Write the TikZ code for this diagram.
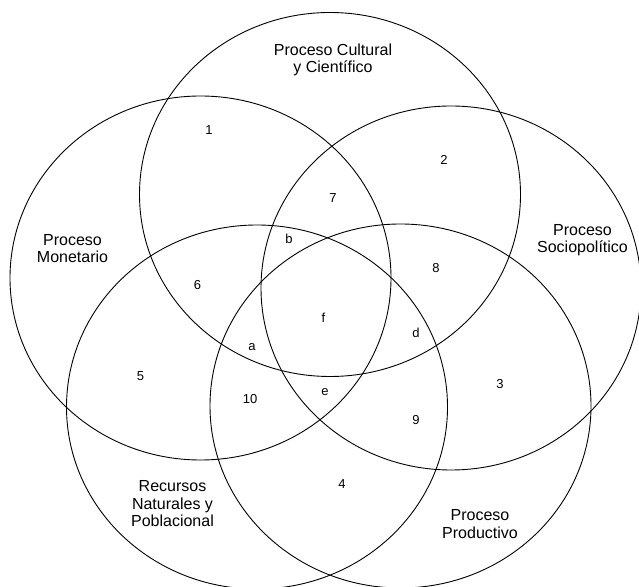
\documentclass[tikz,border=0pt]{standalone}
\usepackage{fontspec}
\setmainfont{Liberation Sans}
\usepackage{tikz}

\tikzset{
  setline/.style={black, line width=0.9pt},
  setname/.style={align=center, inner sep=0pt, font=\fontsize{16}{17.5}\selectfont},
  region/.style={inner sep=0pt, font=\fontsize{13}{15}\selectfont}
}

\begin{document}
\begin{tikzpicture}[x=1pt, y=1pt]
      \useasboundingbox (0,0) rectangle (639,586);
      % the five sets
      \draw[setline] (330,391.5) ellipse [x radius=190.5pt, y radius=182pt];
      \draw[setline] (200.5,308) ellipse [x radius=190.5pt, y radius=182pt];
      \draw[setline] (451,298) ellipse [x radius=190pt, y radius=182pt];
      \draw[setline] (257,179) ellipse [x radius=190.5pt, y radius=182pt];
      \draw[setline] (400.5,180) ellipse [x radius=190.5pt, y radius=182pt];

      % set names
      \node[setname] (cultural) at (333,526.3) {Proceso Cultural\\y Científico};
      \node[setname] (monetario) at (72.5,337.5) {Proceso\\Monetario};
      \node[setname] (sociopol) at (582.5,346) {Proceso\\Sociopolítico};
      \node[setname] (recursos) at (172.5,82.4) {Recursos\\Naturales y\\Poblacional};
      \node[setname] (productivo) at (480,62) {Proceso\\Productivo};

      % regions
      \node[region] (r1) at (209,456.3) {1};
      \node[region] (r2) at (444,426.4) {2};
      \node[region] (r3) at (500,201.8) {3};
      \node[region] (r4) at (342,102) {4};
      \node[region] (r5) at (140.6,210) {5};
      \node[region] (r6) at (197.6,301) {6};
      \node[region] (r7) at (333,388) {7};
      \node[region] (r8) at (436,318) {8};
      \node[region] (r9) at (416,166) {9};
      \node[region] (r10) at (250,186.5) {10};
      \node[region] (ra) at (252,238.5) {a};
      \node[region] (rb) at (289,346.8) {b};
      \node[region] (rd) at (416,252.7) {d};
      \node[region] (re) at (325,194.4) {e};
      \node[region] (rf) at (323.5,268.7) {f};
    \end{tikzpicture}
\end{document}
